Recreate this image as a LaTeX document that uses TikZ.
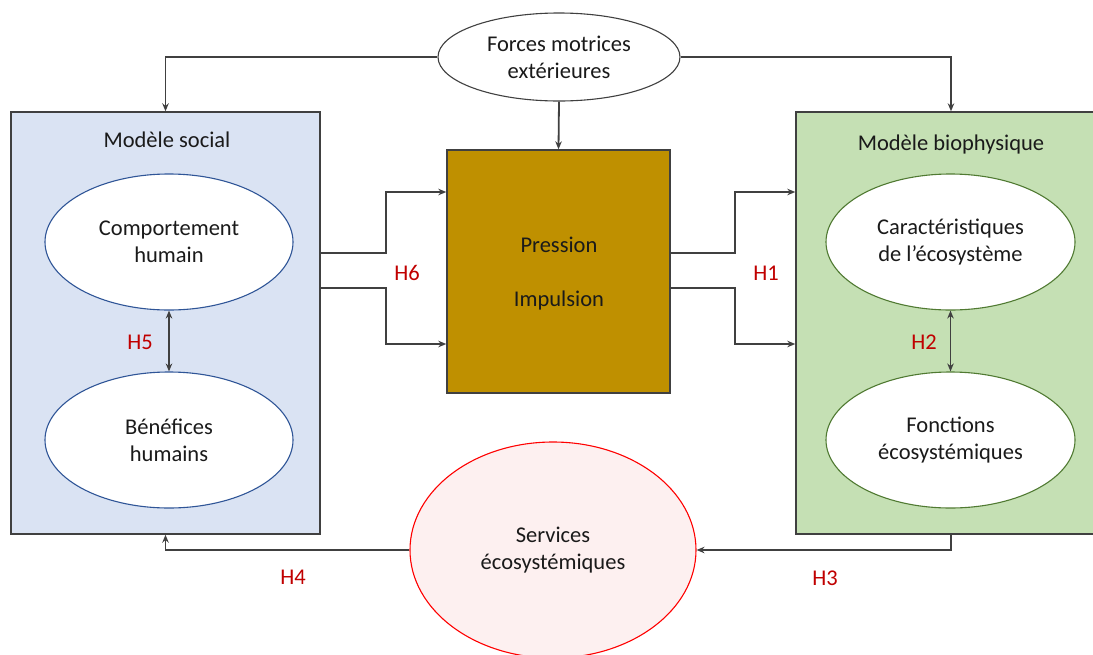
\documentclass[tikz,border=0pt]{standalone}
\usepackage{fontspec}
\setmainfont{Carlito}
\usetikzlibrary{shapes.geometric,arrows.meta}
\definecolor{socfill}{HTML}{DAE3F3}
\definecolor{biofill}{HTML}{C5E0B4}
\definecolor{gold}{HTML}{BF9000}
\definecolor{pinkfill}{HTML}{FDF0F0}
\definecolor{hred}{HTML}{C00000}
\definecolor{lin}{HTML}{404040}
\definecolor{blueln}{HTML}{2F5597}
\definecolor{greenln}{HTML}{507A32}
\definecolor{txt}{HTML}{1A1A1A}
\begin{document}
\begin{tikzpicture}[x=1pt,y=-1pt, font=\fontsize{22.5}{27}\selectfont, text=txt,
  box/.style={draw=lin, line width=1.4pt, rectangle, inner sep=0pt},
  oval/.style={ellipse, draw, fill=white, inner sep=0pt, line width=1.1pt, align=center},
  arr/.style={draw=lin, line width=1.8pt, -{Stealth[length=8pt,width=6.5pt]}},
  dbl/.style={draw=lin, line width=1.8pt, {Stealth[length=8pt,width=6.5pt]}-{Stealth[length=8pt,width=6.5pt]}},
  hlab/.style={text=hred}]
\useasboundingbox (0,0) rectangle (1093,654);
% main boxes
\node[box, fill=socfill, minimum width=309pt, minimum height=422pt] (social) at (165.5,323) {};
\node[box, fill=biofill, minimum width=310pt, minimum height=422pt] (bio) at (951,323) {};
\node[box, fill=gold, minimum width=223pt, minimum height=243pt] (press) at (558.5,271.5) {};
% titles
\node (socialt) at (167,140) {Modèle social};
\node (biot) at (951,144) {Modèle biophysique};
\node (presst) at (559,245) {Pression};
\node (impt) at (559,300) {Impulsion};
% ellipses
\node[oval, draw=lin, minimum width=242pt, minimum height=88pt] (forces) at (559,57) {Forces motrices\\extérieures};
\node[oval, draw=blueln, minimum width=248pt, minimum height=136pt] (comport) at (169,242) {Comportement\\humain};
\node[oval, draw=blueln, minimum width=248pt, minimum height=136pt] (benef) at (169,440) {Bénéfices\\humains};
\node[oval, draw=greenln, minimum width=249pt, minimum height=136pt] (carac) at (950.5,242) {Caractéristiques\\de l’écosystème};
\node[oval, draw=greenln, minimum width=249pt, minimum height=136pt] (fonct) at (950.5,440) {Fonctions\\écosystémiques};
\node[oval, draw=red, fill=pinkfill, minimum width=286pt, minimum height=216pt] (services) at (553,550) {Services\\écosystémiques};
% connectors
\draw[arr] (forces.west) -| (social.north);
\draw[arr] (forces.east) -| (bio.north);
\draw[arr] (forces.south) -- (press.north);
\draw[arr] ([yshift=70pt]social.east) -- ++(65,0) |- ([yshift=79.5pt]press.west);
\draw[arr] ([yshift=35pt]social.east) -- ++(65,0) |- ([yshift=-72.5pt]press.west);
\draw[arr] ([yshift=18.5pt]press.east) -- ++(64,0) |- ([yshift=131pt]bio.west);
\draw[arr] ([yshift=-16.5pt]press.east) -- ++(64,0) |- ([yshift=-21pt]bio.west);
\draw[dbl] (comport.south) -- (benef.north);
\draw[dbl] (carac.south) -- (fonct.north);
\draw[arr] (bio.south) |- (services.east);
\draw[arr] (services.west) -| (social.south);
% labels
\node[hlab] (h6) at (407,273) {H6};
\node[hlab] (h1) at (766,273) {H1};
\node[hlab] (h5) at (140,342) {H5};
\node[hlab] (h2) at (924,342) {H2};
\node[hlab] (h4) at (293,577) {H4};
\node[hlab] (h3) at (825,578) {H3};
\end{tikzpicture}
\end{document}
